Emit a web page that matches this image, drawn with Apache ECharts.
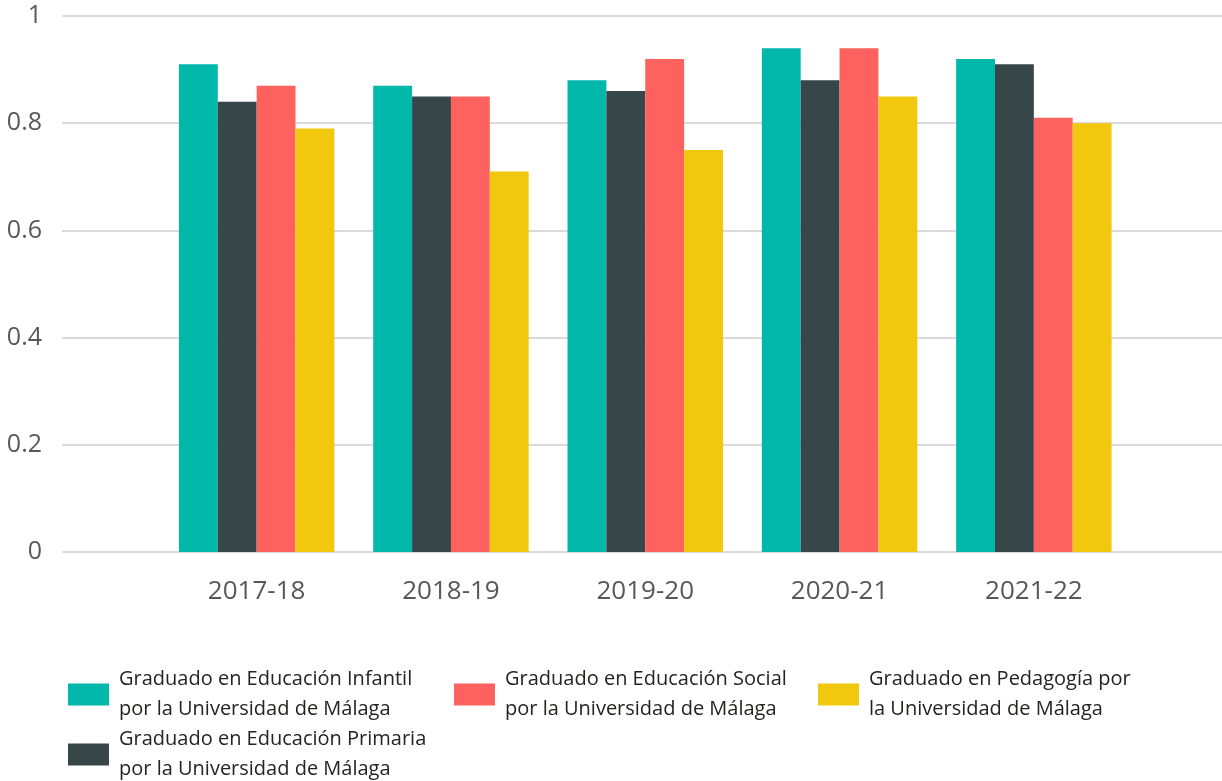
<!DOCTYPE html>
<html>
<head>
<meta charset="utf-8">
<script src="https://cdn.jsdelivr.net/npm/echarts@6/dist/echarts.min.js"></script>
<style>
html,body{margin:0;padding:0;background:#fff;}
#main{width:1222px;height:781px;}
</style>
</head>
<body>
<div id="main"></div>
<script>
const categories = ['2017-18', '2018-19', '2019-20', '2020-21', '2021-22'];
const seriesNames = [
  'Graduado en Educación Infantil por la Universidad de Málaga',
  'Graduado en Educación Primaria por la Universidad de Málaga',
  'Graduado en Educación Social por la Universidad de Málaga',
  'Graduado en Pedagogía por la Universidad de Málaga'
];
const legendLabels = [
  'Graduado en Educación Infantil\npor la Universidad de Málaga',
  'Graduado en Educación Primaria\npor la Universidad de Málaga',
  'Graduado en Educación Social\npor la Universidad de Málaga',
  'Graduado en Pedagogía por\nla Universidad de Málaga'
];
const infantil = [0.91, 0.87, 0.88, 0.94, 0.92];
const primaria = [0.84, 0.85, 0.86, 0.88, 0.91];
const social = [0.87, 0.85, 0.92, 0.94, 0.81];
const pedagogia = [0.79, 0.71, 0.75, 0.85, 0.80];
const colors = ['#01B8AA', '#374649', '#FD625E', '#F2C80F'];
const yTicks = [0, 0.2, 0.4, 0.6, 0.8, 1];

const font = '"Open Sans", "Noto Sans", sans-serif';
const values = [infantil, primaria, social, pedagogia];
const legendPos = [
  {left: 68, top: 665},
  {left: 68, top: 725},
  {left: 454, top: 665},
  {left: 818, top: 665}
];

const chart = echarts.init(document.getElementById('main'), null, {renderer: 'canvas'});
const option = {
  backgroundColor: '#fff',
  animation: false,
  color: colors,
  grid: [
    {left: 62, right: 0, top: 16, bottom: 229, containLabel: false},
    {left: 159.5, right: 91, top: 16, bottom: 229, containLabel: false}
  ],
  xAxis: [
    {gridIndex: 0, type: 'value', min: 0, max: 1, show: false},
    {
      gridIndex: 1, type: 'category', data: categories,
      axisLine: {show: false}, axisTick: {show: false},
      axisLabel: {color: '#58585A', fontSize: 26, fontFamily: font, margin: 27}
    }
  ],
  yAxis: [
    {
      gridIndex: 0, type: 'value', min: 0, max: 1, interval: 0.2,
      axisLine: {show: false}, axisTick: {show: false},
      axisLabel: {
        color: '#58585A', fontSize: 25, fontFamily: font, margin: 20,
        formatter: v => yTicks.includes(Math.round(v * 10) / 10) ? String(Math.round(v * 10) / 10) : ''
      },
      splitLine: {lineStyle: {color: '#DADADA', width: 2}}
    },
    {gridIndex: 1, type: 'value', min: 0, max: 1, show: false}
  ],
  legend: seriesNames.map((n, i) => ({
    data: [n],
    left: legendPos[i].left,
    top: legendPos[i].top,
    padding: 0,
    itemWidth: 41,
    itemHeight: 22,
    icon: 'rect',
    selectedMode: false,
    formatter: () => legendLabels[i],
    textStyle: {color: '#252423', fontSize: 20, fontFamily: font, lineHeight: 29.5, padding: [0, 0, 0, 5]}
  })),
  series: seriesNames.map((n, i) => ({
    name: n,
    type: 'bar',
    xAxisIndex: 1,
    yAxisIndex: 1,
    data: values[i],
    barGap: '0%',
    barCategoryGap: '20%',
    itemStyle: {color: colors[i]}
  }))
};
chart.setOption(option);
</script>
</body>
</html>
